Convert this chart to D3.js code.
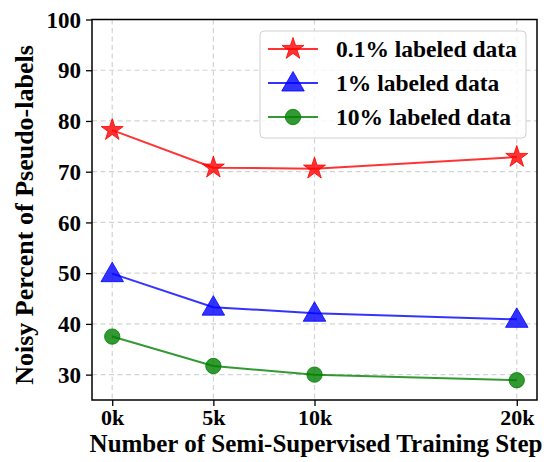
<!DOCTYPE html>
<html><head><meta charset="utf-8">
<script src="https://cdn.jsdelivr.net/npm/d3@7"></script>
<style>body{margin:0;background:#fff}</style>
</head><body>
<svg id="c" width="547" height="462"></svg>
<script>
const steps = [0, 5, 10, 20];
const xTickLabels = ["0k", "5k", "10k", "20k"];
const yTicks = [30, 40, 50, 60, 70, 80, 90, 100];
const seriesNames = ["0.1% labeled data", "1% labeled data", "10% labeled data"];
const red01 = [78.2, 70.8, 70.6, 72.9];
const blue1 = [49.9, 43.3, 42.1, 40.9];
const green10 = [37.5, 31.7, 30.0, 28.9];

const series = [
  {name: seriesNames[0], values: red01, color: "#ff0000", marker: "star"},
  {name: seriesNames[1], values: blue1, color: "#0000ff", marker: "triangle"},
  {name: seriesNames[2], values: green10, color: "#008000", marker: "circle"}
];

const svg = d3.select("#c");
const L = 92, R = 537, T = 19.5, B = 400;
const x = d3.scaleLinear().domain([-1, 21]).range([L, R]);
const y = d3.scaleLinear().domain([25, 100]).range([B, T]);
const font = "'Liberation Serif','Times New Roman',serif";

// grid
const g = svg.append("g");
g.selectAll(".gx").data(steps).enter().append("line")
  .attr("x1", d => x(d)).attr("x2", d => x(d)).attr("y1", T).attr("y2", B)
  .attr("stroke", "#d3d3d3").attr("stroke-width", 1.2).attr("stroke-dasharray", "5,3.5");
g.selectAll(".gy").data(yTicks).enter().append("line")
  .attr("y1", d => y(d)).attr("y2", d => y(d)).attr("x1", L).attr("x2", R)
  .attr("stroke", "#d3d3d3").attr("stroke-width", 1.2).attr("stroke-dasharray", "5,3.5");

// axes
const xAxis = d3.axisBottom(x).tickValues(steps).tickFormat((d, i) => xTickLabels[i]).tickSize(6).tickPadding(8);
const yAxis = d3.axisLeft(y).tickValues(yTicks).tickSize(6).tickPadding(5);
const gx = svg.append("g").attr("transform", `translate(0,${B})`).call(xAxis);
const gy = svg.append("g").attr("transform", `translate(${L},0)`).call(yAxis);
[gx, gy].forEach(a => {
  a.select(".domain").remove();
  a.selectAll("line").attr("stroke", "#000").attr("stroke-width", 1.3);
  a.selectAll("text").attr("font-family", font).attr("font-weight", "bold").attr("font-size", "23px").attr("fill", "#000");
});
gx.selectAll("text").attr("font-size", "22px").attr("dy", null).attr("y", 25);
gy.selectAll("text").attr("dy", "0.33em");
// spines
svg.append("rect").attr("x", L).attr("y", T).attr("width", R - L).attr("height", B - T)
  .attr("fill", "none").attr("stroke", "#000").attr("stroke-width", 1.5);

// lines & markers
const line = d3.line().x((d, i) => x(steps[i])).y(d => y(d));
const sym = {
  star: d3.symbol().type(d3.symbolStar).size(150),
  triangle: d3.symbol().type(d3.symbolTriangle).size(220),
  circle: d3.symbol().type(d3.symbolCircle).size(185)
};
series.forEach(s => {
  svg.append("path").datum(s.values).attr("d", line)
    .attr("fill", "none").attr("stroke", s.color).attr("stroke-width", 2).attr("stroke-opacity", 0.8);
  svg.selectAll(null).data(s.values).enter().append("path")
    .attr("d", sym[s.marker])
    .attr("transform", (d, i) => `translate(${x(steps[i])},${y(d) + (s.marker === "triangle" ? 1.5 : 0)})`)
    .attr("fill", s.color).attr("fill-opacity", 0.8)
    .attr("stroke", s.color).attr("stroke-opacity", 0.8).attr("stroke-width", 1);
});

// legend
const lg = svg.append("g");
lg.append("rect").attr("x", 260).attr("y", 31).attr("width", 266).attr("height", 107)
  .attr("rx", 4).attr("fill", "#fff").attr("fill-opacity", 0.8).attr("stroke", "#d0d0d0").attr("stroke-width", 1);
series.forEach((s, i) => {
  const yy = 49 + i * 34;
  lg.append("line").attr("x1", 268).attr("x2", 318).attr("y1", yy).attr("y2", yy)
    .attr("stroke", s.color).attr("stroke-width", 2).attr("stroke-opacity", 0.8);
  lg.append("path").attr("d", sym[s.marker]).attr("transform", `translate(293,${yy + (s.marker === "triangle" ? 1.5 : 0)})`)
    .attr("fill", s.color).attr("fill-opacity", 0.8).attr("stroke", s.color).attr("stroke-opacity", 0.8);
  lg.append("text").attr("x", 336).attr("y", yy + 8).text(s.name)
    .attr("font-family", font).attr("font-weight", "bold").attr("font-size", "23.5px").attr("fill", "#000");
});

// axis labels
svg.append("text").attr("x", 316).attr("y", 452).attr("text-anchor", "middle")
  .attr("font-family", font).attr("font-weight", "bold").attr("font-size", "25px").text("Number of Semi-Supervised Training Step");
svg.append("text").attr("transform", "translate(33,215) rotate(-90)").attr("text-anchor", "middle")
  .attr("font-family", font).attr("font-weight", "bold").attr("font-size", "26px").text("Noisy Percent of Pseudo-labels");
</script>
</body></html>
